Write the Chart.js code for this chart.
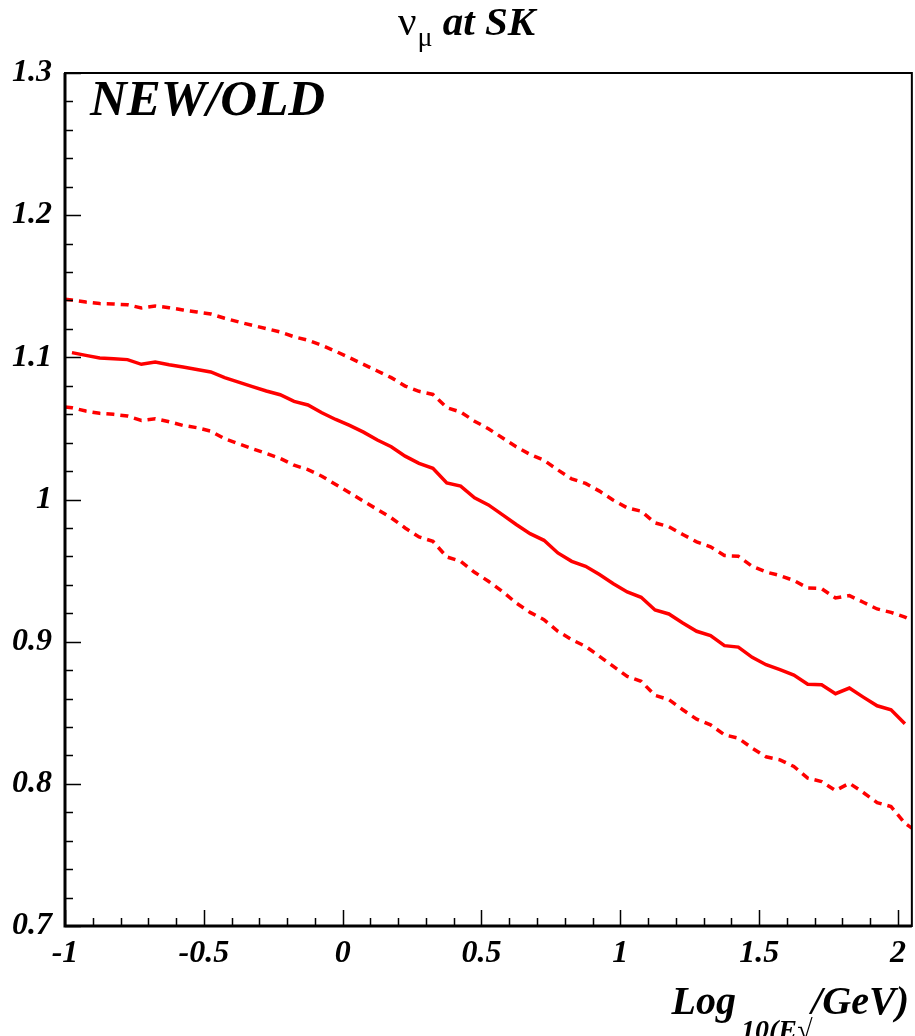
<!DOCTYPE html>
<html>
<head>
<meta charset="utf-8">
<script src="https://cdn.jsdelivr.net/npm/chart.js@4/dist/chart.umd.min.js"></script>
<style>
  html, body { margin: 0; padding: 0; background: #fff; }
  #wrap { width: 915px; height: 1036px; }
</style>
</head>
<body>
<div id="wrap"><canvas id="ratioChart" width="915" height="1036"></canvas></div>
<script>
const binCenters = [
    -0.975, -0.925, -0.875, -0.825, -0.775, -0.725, -0.675, -0.625, -0.575, -0.525,
    -0.475, -0.425, -0.375, -0.325, -0.275, -0.225, -0.175, -0.125, -0.075, -0.025,
    0.025, 0.075, 0.125, 0.175, 0.225, 0.275, 0.325, 0.375, 0.425, 0.475,
    0.525, 0.575, 0.625, 0.675, 0.725, 0.775, 0.825, 0.875, 0.925, 0.975,
    1.025, 1.075, 1.125, 1.175, 1.225, 1.275, 1.325, 1.375, 1.425, 1.475,
    1.525, 1.575, 1.625, 1.675, 1.725, 1.775, 1.825, 1.875, 1.925, 1.975,
    2.025
];
const ratio = [
    1.1033, 1.1014, 1.0995, 1.0990, 1.0984, 1.0951, 1.0967, 1.0948, 1.0932, 1.0915,
    1.0897, 1.0857, 1.0826, 1.0794, 1.0763, 1.0737, 1.0690, 1.0665, 1.0610, 1.0563,
    1.0521, 1.0474, 1.0418, 1.0371, 1.0305, 1.0254, 1.0220, 1.0117, 1.0094, 1.0012,
    0.9962, 0.9894, 0.9824, 0.9760, 0.9713, 0.9624, 0.9565, 0.9530, 0.9472, 0.9408,
    0.9350, 0.9312, 0.9223, 0.9195, 0.9132, 0.9073, 0.9042, 0.8972, 0.8962, 0.8890,
    0.8838, 0.8803, 0.8765, 0.8701, 0.8697, 0.8634, 0.8674, 0.8610, 0.8549, 0.8521,
    0.8423
];
// band curves also have a value at each frame edge (x = -1 and x = 2.05)
const bandEdges = [-1, 2.05];
const ratioUpper = [
    1.1408,
    1.1403, 1.1389, 1.1378, 1.1375, 1.1370, 1.1347, 1.1361, 1.1349, 1.1333, 1.1319,
    1.1305, 1.1275, 1.1249, 1.1225, 1.1202, 1.1178, 1.1145, 1.1120, 1.1085, 1.1042,
    1.0997, 1.0951, 1.0904, 1.0857, 1.0798, 1.0761, 1.0739, 1.0646, 1.0615, 1.0551,
    1.0498, 1.0434, 1.0371, 1.0317, 1.0276, 1.0208, 1.0145, 1.0113, 1.0059, 0.9995,
    0.9941, 0.9918, 0.9836, 0.9808, 0.9754, 0.9702, 0.9667, 0.9606, 0.9601, 0.9530,
    0.9490, 0.9465, 0.9430, 0.9378, 0.9373, 0.9307, 0.9324, 0.9277, 0.9230, 0.9206,
    0.9173,
    0.9150
];
const ratioLower = [
    1.0650,
    1.0645, 1.0622, 1.0606, 1.0599, 1.0587, 1.0556, 1.0568, 1.0547, 1.0521, 1.0505,
    1.0481, 1.0427, 1.0392, 1.0357, 1.0324, 1.0289, 1.0241, 1.0210, 1.0164, 1.0106,
    1.0047, 0.9988, 0.9930, 0.9871, 0.9800, 0.9737, 0.9706, 0.9596, 0.9565, 0.9488,
    0.9425, 0.9354, 0.9272, 0.9206, 0.9155, 0.9073, 0.9014, 0.8967, 0.8897, 0.8826,
    0.8756, 0.8721, 0.8622, 0.8592, 0.8521, 0.8455, 0.8415, 0.8345, 0.8321, 0.8251,
    0.8190, 0.8169, 0.8122, 0.8040, 0.8016, 0.7953, 0.8004, 0.7939, 0.7868, 0.7840,
    0.7723,
    0.7688
];
const xRange = [-1, 2.05];
const yRange = [0.7, 1.3];

const serif = "'Liberation Serif', 'Times New Roman', serif";
const bandX = [bandEdges[0]].concat(binCenters, [bandEdges[1]]);
const toPoints = (xs, ys) => xs.map((x, i) => ({ x, y: ys[i] }));
const fmt = v => String(Math.round(v * 100) / 100);

// ROOT-like frame with ticks drawn inside the pad
const rootFrame = {
    id: 'rootFrame',
    afterDatasetsDraw(chart) {
        const ctx = chart.ctx;
        const { left, right, top, bottom } = chart.chartArea;
        const xs = chart.scales.x, ys = chart.scales.y;
        ctx.save();
        ctx.strokeStyle = '#000';
        ctx.lineWidth = 1.5;
        ctx.beginPath();
        for (let i = 0; i <= Math.round((xRange[1] - xRange[0]) / 0.1); i++) {
            const v = xRange[0] + i * 0.1;
            const major = Math.abs(v * 2 - Math.round(v * 2)) < 1e-6;
            const px = Math.round(xs.getPixelForValue(v)) + 0.5;
            ctx.moveTo(px, bottom);
            ctx.lineTo(px, bottom - (major ? 16 : 8));
        }
        for (let i = 0; i <= 30; i++) {
            const v = yRange[0] + i * 0.02;
            const major = i % 5 === 0;
            const py = Math.round(ys.getPixelForValue(v)) + 0.5;
            ctx.moveTo(left, py);
            ctx.lineTo(left + (major ? 16 : 8), py);
        }
        ctx.stroke();
        ctx.lineWidth = 2;
        ctx.strokeRect(left, top, right - left, bottom - top);
        ctx.lineWidth = 3;
        ctx.beginPath();
        ctx.moveTo(left, top);
        ctx.lineTo(left, bottom);
        ctx.lineTo(right, bottom);
        ctx.stroke();
        ctx.restore();
    },
    afterDraw(chart) {
        const ctx = chart.ctx;
        ctx.save();
        ctx.fillStyle = '#000';
        ctx.textBaseline = 'alphabetic';

        // title: nu_mu at SK
        const big = '41px ' + serif;
        const bigBI = 'italic bold 41px ' + serif;
        const sub = '28px ' + serif;
        ctx.font = big; const wNu = ctx.measureText('ν').width;
        ctx.font = sub; const wMu = ctx.measureText('μ').width;
        ctx.font = bigBI; const wAt = ctx.measureText(' at SK').width;
        let x = 466 - (wNu + wMu + wAt) / 2;
        ctx.font = big; ctx.fillText('ν', x, 35); x += wNu + 1;
        ctx.font = sub; ctx.fillText('μ', x, 46); x += wMu;
        ctx.font = bigBI; ctx.fillText(' at SK', x, 35);

        // label inside the frame
        ctx.font = 'italic bold 51px ' + serif;
        ctx.fillText('NEW/OLD', 90, 115);

        // x axis title, right aligned at the pad edge
        const axBig = 'italic bold 40px ' + serif;
        const axSub = 'italic bold 28px ' + serif;
        ctx.font = axBig; const wLog = ctx.measureText('Log').width; const wGev = ctx.measureText('/GeV)').width;
        ctx.font = axSub; const wSub = ctx.measureText('10(E√').width;
        x = 909 - (wLog + wSub + wGev + 4);
        ctx.font = axBig; ctx.fillText('Log', x, 1014); x += wLog + 5;
        ctx.font = axSub; ctx.fillText('10(E√', x, 1039); x += wSub - 1;
        ctx.font = axBig; ctx.fillText('/GeV)', x, 1014);
        ctx.restore();
    }
};

const tickFont = { family: serif, size: 32, style: 'italic', weight: 'bold' };

new Chart(document.getElementById('ratioChart'), {
    type: 'line',
    data: {
        datasets: [
            {
                label: 'ratio',
                data: toPoints(binCenters, ratio),
                borderColor: '#ff0000',
                borderWidth: 3.5,
                pointRadius: 0,
                tension: 0
            },
            {
                label: 'upper',
                data: toPoints(bandX, ratioUpper),
                borderColor: '#ff0000',
                borderWidth: 3.5,
                borderDash: [8, 6],
                pointRadius: 0,
                tension: 0
            },
            {
                label: 'lower',
                data: toPoints(bandX, ratioLower),
                borderColor: '#ff0000',
                borderWidth: 3.5,
                borderDash: [8, 6],
                pointRadius: 0,
                tension: 0
            }
        ]
    },
    plugins: [rootFrame],
    options: {
        responsive: false,
        animation: false,
        devicePixelRatio: 1,
        layout: { padding: { left: 0, top: 73, right: 2, bottom: 0 } },
        plugins: { legend: { display: false }, tooltip: { enabled: false }, title: { display: false } },
        scales: {
            x: {
                type: 'linear',
                min: xRange[0], max: xRange[1],
                grid: { display: false, drawTicks: false },
                border: { display: false },
                ticks: {
                    stepSize: 0.5, includeBounds: false, autoSkip: false, maxRotation: 0,
                    padding: 9, color: '#000', font: tickFont,
                    callback: v => fmt(v)
                },
                afterFit: s => { s.height = 110; }
            },
            y: {
                type: 'linear',
                min: yRange[0], max: yRange[1],
                grid: { display: false, drawTicks: false },
                border: { display: false },
                ticks: {
                    stepSize: 0.1, includeBounds: false, autoSkip: false,
                    padding: 13, color: '#000', font: tickFont,
                    callback: v => fmt(v)
                },
                afterFit: s => { s.width = 65; }
            }
        }
    }
});
</script>
</body>
</html>
